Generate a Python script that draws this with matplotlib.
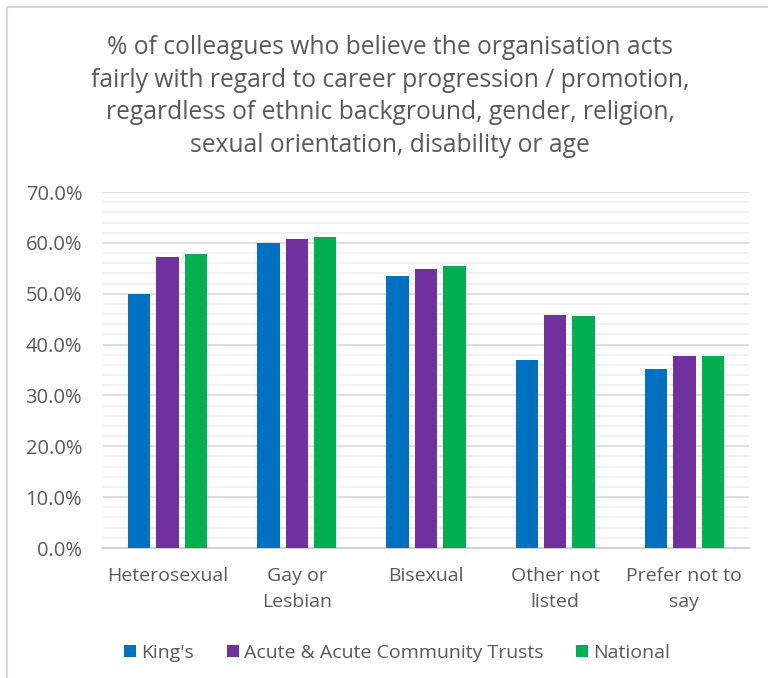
import matplotlib
matplotlib.use("Agg")
import matplotlib.pyplot as plt
import numpy as np
from matplotlib.ticker import MultipleLocator, FuncFormatter
from matplotlib.patches import Rectangle

categories = ["Heterosexual", "Gay or\nLesbian", "Bisexual", "Other not\nlisted", "Prefer not to\nsay"]
series_names = ["King's", "Acute & Acute Community Trusts", "National"]
kings = [50.0, 60.0, 53.4, 36.9, 35.2]
acute = [57.2, 60.7, 54.8, 45.8, 37.8]
national = [57.8, 61.1, 55.5, 45.6, 37.8]
colors = ["#0070C0", "#7030A0", "#00B050"]
title = ("% of colleagues who believe the organisation acts\n"
         "fairly with regard to career progression / promotion,\n"
         "regardless of ethnic background, gender, religion,\n"
         "sexual orientation, disability or age")

plt.rcParams['font.family'] = ['Open Sans', 'DejaVu Sans']
txt = "#595959"

W, H = 768, 678
fig = plt.figure(figsize=(W/100, H/100), dpi=100)
fig.patches.append(Rectangle((7/W, -0.1), 1.2, (H-7)/H + 0.1, transform=fig.transFigure,
                             fill=False, edgecolor="#d9d9d9", linewidth=1.5))

ax = fig.add_axes([103/W, 130/H, (749-103)/W, (486-130)/H])
x = np.arange(len(categories))
bw = 0.174
step = 0.22
for i, (vals, c, n) in enumerate(zip([kings, acute, national], colors, series_names)):
    ax.bar(x + (i-1)*step, vals, width=bw, color=c, label=n, zorder=3)

ax.set_xlim(-0.5, len(categories)-0.5)
ax.set_ylim(0, 70)
ax.yaxis.set_major_locator(MultipleLocator(10))
ax.yaxis.set_minor_locator(MultipleLocator(2))
ax.yaxis.set_major_formatter(FuncFormatter(lambda v, p: f"{v:.1f}%"))
ax.grid(which='major', axis='y', color="#d9d9d9", linewidth=1.2, zorder=0)
ax.grid(which='minor', axis='y', color="#f0f0f0", linewidth=1.2, zorder=0)
for s in ['top', 'right', 'left']:
    ax.spines[s].set_visible(False)
ax.spines['bottom'].set_color("#d0d0d0")
ax.spines['bottom'].set_linewidth(1.5)
ax.tick_params(axis='both', which='both', length=0, colors=txt)
ax.tick_params(axis='y', which='major', pad=15, labelsize=14.5)
ax.tick_params(axis='x', which='major', pad=13.5, labelsize=14)
ax.set_xticks(x)
ax.set_xticklabels(categories, linespacing=1.6)

fig.text(390/W, 1 - 96.5/H, title, ha='center', va='center', fontsize=17.7,
         color=txt, linespacing=1.39)

leg = fig.legend(loc='center', bbox_to_anchor=(397/W, 1 - 653/H), ncol=3, frameon=False,
                 fontsize=14, handlelength=0.62, handleheight=0.62, handletextpad=0.25,
                 columnspacing=1.7, borderaxespad=0, borderpad=0)
for t in leg.get_texts():
    t.set_color(txt)

fig.savefig("out.png", dpi=100)
